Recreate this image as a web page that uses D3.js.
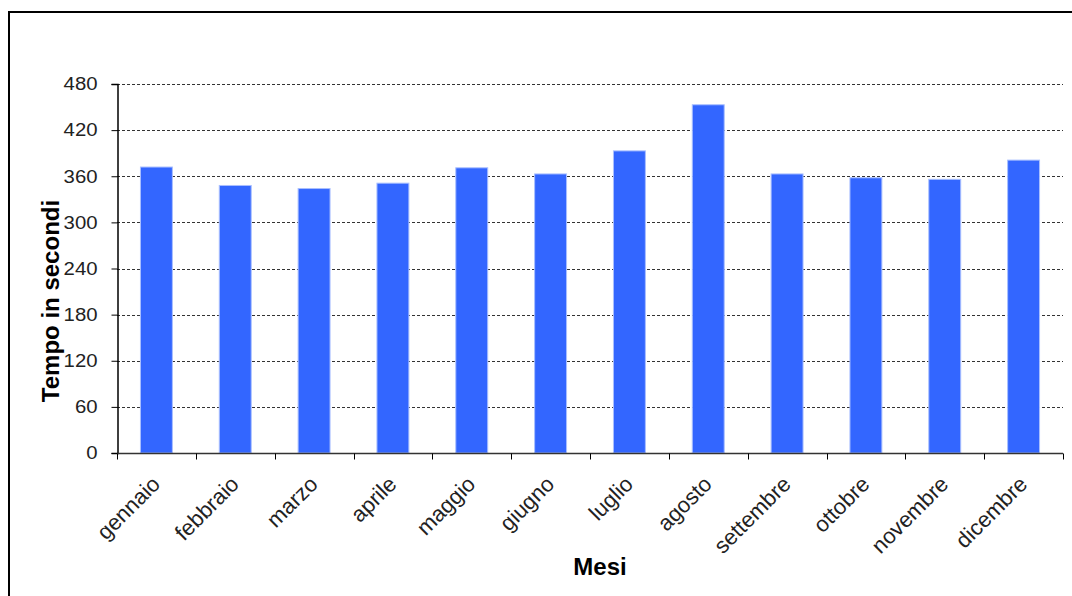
<!DOCTYPE html>
<html>
<head>
<meta charset="utf-8">
<script src="https://cdn.jsdelivr.net/npm/d3@7"></script>
<style>
  html, body { margin: 0; padding: 0; background: #fff; }
  svg { display: block; }
  text { font-family: "Liberation Sans", Arial, sans-serif; }
</style>
</head>
<body>
<svg id="chart" width="1072" height="596"></svg>
<script>
// Monthly average time (seconds)
const months = ["gennaio", "febbraio", "marzo", "aprile", "maggio", "giugno",
                "luglio", "agosto", "settembre", "ottobre", "novembre", "dicembre"];
const seconds = [372, 348, 344, 351, 371, 363, 393, 453, 363, 358, 356, 381];
const yTicks = [0, 60, 120, 180, 240, 300, 360, 420, 480];
const xTitle = "Mesi";
const yTitle = "Tempo in secondi";

const svg = d3.select("#chart");
const plot = { left: 117, right: 1063, top: 84, bottom: 453 };

// outer frame
svg.append("path")
  .attr("d", `M9,600 L9,12 L1080,12`)
  .attr("fill", "none")
  .attr("stroke", "#000")
  .attr("stroke-width", 2);

const x = d3.scaleBand()
  .domain(months)
  .range([plot.left, plot.right])
  .paddingInner(0.595)
  .paddingOuter(0.2975);

const y = d3.scaleLinear()
  .domain([0, 480])
  .range([plot.bottom, plot.top]);

// dashed horizontal grid
svg.append("g")
  .selectAll("line")
  .data(yTicks.filter(d => d > 0))
  .join("line")
  .attr("x1", plot.left)
  .attr("x2", plot.right)
  .attr("y1", d => Math.round(y(d)) + 0.5)
  .attr("y2", d => Math.round(y(d)) + 0.5)
  .attr("stroke", "#333")
  .attr("stroke-width", 1)
  .attr("stroke-dasharray", "3,2");

// bars
svg.append("g")
  .selectAll("rect")
  .data(months.map((m, i) => ({ m, v: seconds[i] })))
  .join("rect")
  .attr("x", d => x(d.m))
  .attr("y", d => y(d.v))
  .attr("width", x.bandwidth())
  .attr("height", d => y(0) - y(d.v))
  .attr("fill", "#3366ff")
  .attr("stroke", "#a9bfff")
  .attr("stroke-width", 1);

// y axis
const yAxis = svg.append("g")
  .attr("transform", `translate(${plot.left + 0.5},0)`)
  .call(d3.axisLeft(y).tickValues(yTicks).tickSize(6).tickPadding(14));
yAxis.select(".domain").attr("stroke", "#000").attr("stroke-width", 1.5);
yAxis.selectAll(".tick line").attr("stroke", "#000");
yAxis.selectAll(".tick text")
  .attr("x", 0)
  .attr("transform", "translate(-20,0) scale(1.13,1)")
  .attr("fill", "#222")
  .style("font-size", "18px")
  .style("font-family", "'Liberation Sans', Arial, sans-serif");

// x axis: ticks at category boundaries
const xAxisG = svg.append("g")
  .attr("transform", `translate(0,${plot.bottom + 0.5})`);
xAxisG.append("line")
  .attr("x1", plot.left).attr("x2", plot.right)
  .attr("stroke", "#333").attr("stroke-width", 1.5);
const step = x.step();
xAxisG.selectAll("line.tk")
  .data(d3.range(months.length + 1))
  .join("line")
  .attr("class", "tk")
  .attr("x1", i => Math.round(plot.left + i * step) + 0.5)
  .attr("x2", i => Math.round(plot.left + i * step) + 0.5)
  .attr("y1", 0).attr("y2", 6)
  .attr("stroke", "#000");

xAxisG.selectAll("text")
  .data(months)
  .join("text")
  .attr("transform", d => `translate(${x(d) + x.bandwidth() / 2 + 5},${32}) rotate(-45)`)
  .attr("text-anchor", "end")
  .attr("fill", "#222")
  .style("font-size", "22px")
  .text(d => d);

// axis titles
svg.append("text")
  .attr("x", 600)
  .attr("y", 575)
  .attr("text-anchor", "middle")
  .style("font-size", "24px")
  .style("font-weight", "bold")
  .attr("fill", "#000")
  .text(xTitle);

svg.append("text")
  .attr("transform", "translate(59,301) rotate(-90)")
  .attr("text-anchor", "middle")
  .style("font-size", "24px")
  .style("font-weight", "bold")
  .attr("fill", "#000")
  .text(yTitle);
</script>
</body>
</html>
